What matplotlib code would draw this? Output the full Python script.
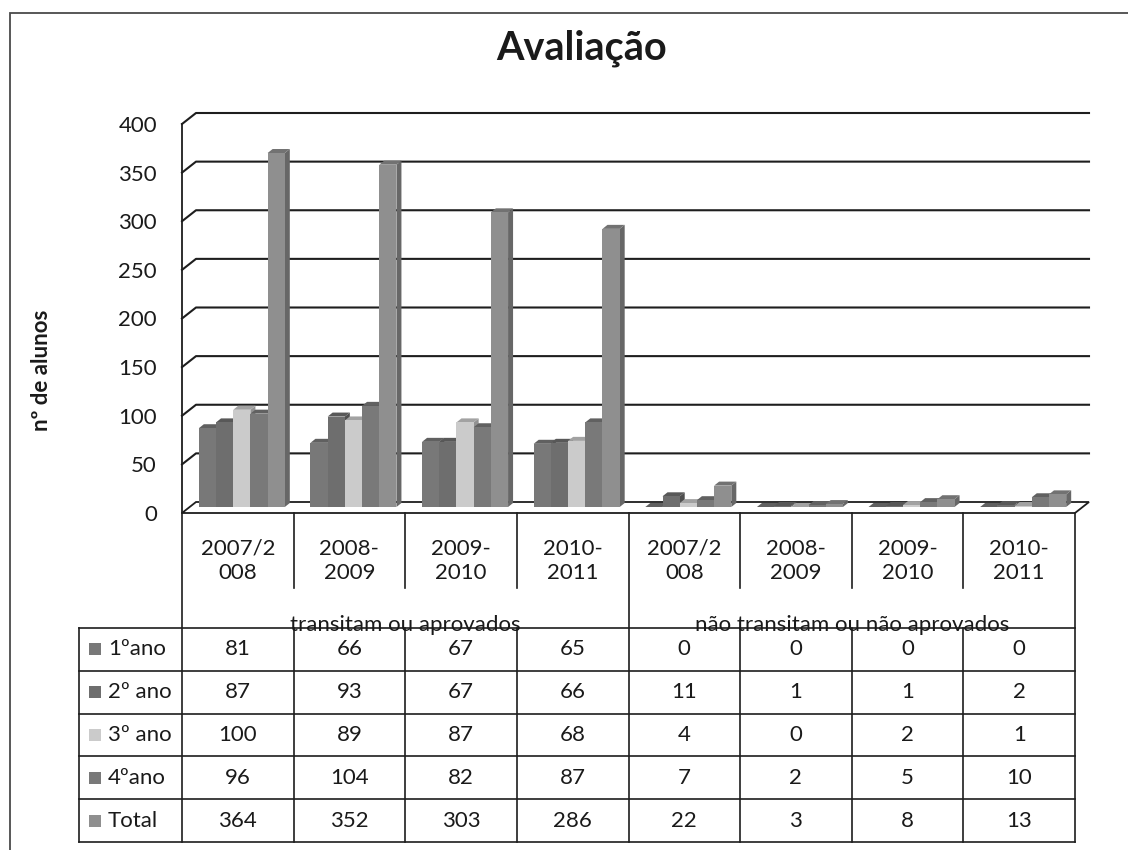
import matplotlib.pyplot as plt
import numpy as np
from matplotlib.patches import Polygon, Rectangle

# Values per school year, for students who passed and who did not pass
periods = ["2007/2\n008", "2008-\n2009", "2009-\n2010", "2010-\n2011"] * 2
groups = ["transitam ou aprovados", "não transitam ou não aprovados"]
series = ["1ºano", "2º ano", "3º ano", "4ºano", "Total"]
ano1 = [81, 66, 67, 65, 0, 0, 0, 0]
ano2 = [87, 93, 67, 66, 11, 1, 1, 2]
ano3 = [100, 89, 87, 68, 4, 0, 2, 1]
ano4 = [96, 104, 82, 87, 7, 2, 5, 10]
total = [364, 352, 303, 286, 22, 3, 8, 13]
yticks = [0, 50, 100, 150, 200, 250, 300, 350, 400]

values = [ano1, ano2, ano3, ano4, total]
colors = ["#787878", "#6e6e6e", "#cbcbcb", "#797979", "#8f8f8f"]
line_c = "#1e1e1e"
text_c = "#1a1a1a"
fs = 16

plt.rcParams["font.family"] = ["Lato", "DejaVu Sans"]

W, H = 1128, 850
fig = plt.figure(figsize=(W / 100, H / 100), dpi=100)


def fx(px):
    return px / W


def fy(py):
    return 1 - py / H


def shade(c, k):
    rgb = np.array(plt.matplotlib.colors.to_rgb(c))
    return tuple(np.clip(rgb * k, 0, 1))


# chart area (front plane of the 3d box)
ax = fig.add_axes([fx(182), fy(513), fx(1075) - fx(182), fy(124) - fy(513)])
ax.set_xlim(0, 8)
ax.set_ylim(0, 400)
ax.patch.set_visible(False)
for sp in ax.spines.values():
    sp.set_visible(False)

cat_px = (1075 - 182) / 8
unit_px = (513 - 124) / 400
wall_dx, wall_dy = 14 / cat_px, 11 / unit_px
base_dx, base_dy = 4 / cat_px, 6 / unit_px
bar_dx, bar_dy = 5 / cat_px, 4 / unit_px
w = 17.2 / cat_px
n = len(periods)

# back wall gridlines with the short diagonal on the side wall
for v in yticks[1:]:
    ax.plot([0, wall_dx, n + wall_dx], [v, v + wall_dy, v + wall_dy],
            color=line_c, lw=1.5, zorder=1, clip_on=False)
ax.plot([0, 0], [0, 400], color=line_c, lw=1.3, zorder=1, clip_on=False)

# floor
floor = Polygon([(0, 0), (n, 0), (n + wall_dx, wall_dy), (wall_dx, wall_dy)],
                closed=True, facecolor="white", edgecolor=line_c, lw=1.3,
                zorder=1.5, clip_on=False)
ax.add_patch(floor)

# 3d columns: front face from ax.bar, then top and side faces
for s, vals in enumerate(values):
    x = np.arange(n) + 0.5 + (s - 2) * w + base_dx
    bars = ax.bar(x, vals, width=w, bottom=base_dy, color=colors[s],
                  linewidth=0, zorder=3 + s, clip_on=False)
    for b in bars:
        x0, y0 = b.get_x(), b.get_y()
        x1, y1 = x0 + b.get_width(), y0 + b.get_height()
        side = Polygon([(x1, y0), (x1 + bar_dx, y0 + bar_dy),
                        (x1 + bar_dx, y1 + bar_dy), (x1, y1)],
                       closed=True, facecolor=shade(colors[s], 0.72),
                       lw=0, zorder=2.5 + s, clip_on=False)
        top = Polygon([(x0, y1), (x1, y1), (x1 + bar_dx, y1 + bar_dy),
                       (x0 + bar_dx, y1 + bar_dy)],
                      closed=True, facecolor=shade(colors[s], 0.8),
                      lw=0, zorder=2.5 + s, clip_on=False)
        ax.add_patch(side)
        ax.add_patch(top)

ax.set_xticks([])
ax.set_yticks(yticks)
ax.set_yticklabels([str(v) for v in yticks])
ax.tick_params(axis="y", length=0, pad=18, labelsize=fs, labelcolor=text_c)

# data table below the chart
row_px = (842 - 628) / 5
tab = fig.add_axes([fx(79), fy(842), fx(1075) - fx(79), fy(513) - fy(842)])
left = -(182 - 79) / cat_px
top_lab = -(628 - 513) / row_px
lab_end = -(628 - 588) / row_px
tab.set_xlim(left, n)
tab.set_ylim(len(series), top_lab)
tab.axis("off")

lk = dict(color=line_c, lw=1.2, clip_on=False)
for r in range(len(series) + 1):
    tab.plot([left, n], [r, r], **lk)
tab.plot([left, left], [0, len(series)], **lk)
for c in range(n + 1):
    if c in (0, 4, 8):
        tab.plot([c, c], [top_lab, len(series)], **lk)
    else:
        tab.plot([c, c], [top_lab, lab_end], **lk)
        tab.plot([c, c], [0, len(series)], **lk)

for c, p in enumerate(periods):
    tab.text(c + 0.5, -(628 - 561) / row_px, p, ha="center", va="center",
             fontsize=fs, linespacing=1.3, color=text_c)
for g, name in enumerate(groups):
    tab.text(g * 4 + 2, 3 / row_px, name, ha="center", va="baseline",
             fontsize=fs, color=text_c)

for r, (name, vals) in enumerate(zip(series, values)):
    tab.plot(left + 16 / cat_px, r + 0.5, marker="s", ms=9,
             color=colors[r], mew=0, clip_on=False)
    tab.text(left + 29 / cat_px, r + 0.5, name, ha="left", va="center",
             fontsize=fs, color=text_c)
    for c, v in enumerate(vals):
        tab.text(c + 0.5, r + 0.5, str(v), ha="center", va="center",
                 fontsize=fs, color=text_c)

fig.text(fx(582), fy(48), "Avaliação", ha="center", va="center",
         fontsize=28.5, fontweight="bold", color=text_c)
fig.text(fx(42), fy(370), "nº de alunos", ha="center", va="center",
         rotation=90, fontsize=16, fontweight="bold", color=text_c)

# outer frame of the chart object
fig.add_artist(Rectangle((fx(10), -0.1), 1.2, fy(13) + 0.1,
                         transform=fig.transFigure, fill=False,
                         lw=1.3, ec="#4a4a4a"))

fig.savefig("out.png", dpi=100)
